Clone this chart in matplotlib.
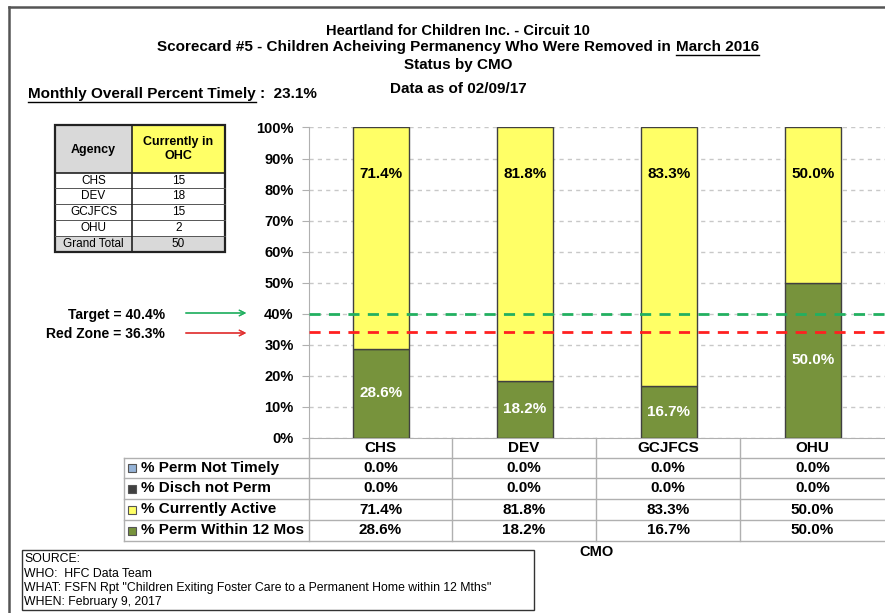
import matplotlib
matplotlib.use("Agg")
import matplotlib.pyplot as plt
from matplotlib import font_manager
from matplotlib.patches import Rectangle
from matplotlib.lines import Line2D

W, H = 885, 613

# ---- data ----
cmos = ["CHS", "DEV", "GCJFCS", "OHU"]
perm_not_timely = [0.0, 0.0, 0.0, 0.0]
disch_not_perm = [0.0, 0.0, 0.0, 0.0]
currently_active = [71.4, 81.8, 83.3, 50.0]
perm_within_12 = [28.6, 18.2, 16.7, 50.0]
series_names = ["% Perm Not Timely", "% Disch not Perm", "% Currently Active", "% Perm Within 12 Mos"]

agencies = ["CHS", "DEV", "GCJFCS", "OHU", "Grand Total"]
in_ohc = [15, 18, 15, 2, 50]

target = 40.0
red_zone = 34.2
overall_timely = "23.1%"

names = [f.name for f in font_manager.fontManager.ttflist]
narrow = "Liberation Sans Narrow" if "Liberation Sans Narrow" in names else "Liberation Sans"
plt.rcParams["font.family"] = ["Liberation Sans", "DejaVu Sans"]

GREEN = "#77933c"
YELLOW = "#ffff66"
DARK = "#404040"
BLUE = "#95b3d7"
GRID = "#b0b0b0"


def px(x, y):
    return x / W, 1 - y / H


fig = plt.figure(figsize=(W / 100, H / 100), dpi=100)

# outer frame
fig.add_artist(Line2D([9 / W, 9 / W], [0, 1 - 7 / H], transform=fig.transFigure, color="#555555", lw=1.8))
fig.add_artist(Line2D([9 / W, 1], [1 - 7 / H, 1 - 7 / H], transform=fig.transFigure, color="#555555", lw=1.8))

# ---- main axes ----
ax_l, ax_r, ax_t, ax_b = 309, 885, 127.5, 437.7
ax = fig.add_axes([ax_l / W, 1 - ax_b / H, (ax_r - ax_l) / W, (ax_b - ax_t) / H])
x = range(len(cmos))
bw = 0.39
ax.bar(x, perm_within_12, bw, color=GREEN, edgecolor=DARK, lw=1, zorder=3)
bottom2 = perm_within_12
ax.bar(x, currently_active, bw, bottom=bottom2, color=YELLOW, edgecolor=DARK, lw=1, zorder=3)
bottom3 = [a + b for a, b in zip(bottom2, currently_active)]
ax.bar(x, disch_not_perm, bw, bottom=bottom3, color=DARK, lw=0, zorder=3)
bottom4 = [a + b for a, b in zip(bottom3, disch_not_perm)]
ax.bar(x, perm_not_timely, bw, bottom=bottom4, color=BLUE, lw=0, zorder=3)

for i in x:
    ax.text(i, perm_within_12[i] / 2, f"{perm_within_12[i]:.1f}%", ha="center", va="center",
            color="white", fontsize=11, fontweight="bold", family=narrow, zorder=4)
    ax.text(i, 85, f"{currently_active[i]:.1f}%", ha="center", va="center",
            color="black", fontsize=11, fontweight="bold", family=narrow, zorder=4)

ax.axhline(target, color="#22b060", lw=2, ls=(0, (4, 3)), zorder=5)
ax.axhline(red_zone, color="#ff2020", lw=2, ls=(0, (4, 3)), zorder=5)

ax.set_xlim(-0.5, 3.5)
ax.set_ylim(0, 100)
ax.set_yticks(range(0, 101, 10))
ax.set_yticklabels([f"{v}%" for v in range(0, 101, 10)], fontsize=10.5, fontweight="bold")
ax.set_xticks([])
ax.yaxis.grid(True, color="#c8c8c8", ls=(0, (3, 3)), lw=1)
ax.set_axisbelow(True)
for s in ["top", "right"]:
    ax.spines[s].set_visible(False)
ax.spines["left"].set_color(GRID)
ax.spines["bottom"].set_color(GRID)
ax.tick_params(axis="y", length=5, color=GRID, pad=6)

# ---- data table under the chart ----
col_edges = [309, 452, 596, 740, 885]
row_edges = [437.7, 458, 478, 499, 520, 541]
tl = dict(transform=fig.transFigure, color=GRID, lw=1)
for y in row_edges[1:]:
    fig.add_artist(Line2D([124 / W, 1], [1 - y / H] * 2, **tl))
fig.add_artist(Line2D([124 / W] * 2, [1 - 458 / H, 1 - 541 / H], **tl))
for cx in col_edges[:-1]:
    fig.add_artist(Line2D([cx / W] * 2, [1 - 437.7 / H, 1 - 541 / H], **tl))

for j, name in enumerate(cmos):
    cx = (col_edges[j] + col_edges[j + 1]) / 2
    fig.text(*px(cx, 448), name, ha="center", va="center", fontsize=11, fontweight="bold")

table_rows = [perm_not_timely, disch_not_perm, currently_active, perm_within_12]
row_colors = [BLUE, DARK, YELLOW, GREEN]
for r, (label, vals, col) in enumerate(zip(series_names, table_rows, row_colors)):
    yc = (row_edges[r + 1] + row_edges[r + 2]) / 2
    fig.add_artist(Rectangle(px(128, yc + 4), 8 / W, 8 / H, transform=fig.transFigure,
                             facecolor=col, edgecolor="#555555", lw=0.8))
    fig.text(*px(141, yc), label, ha="left", va="center", fontsize=11, fontweight="bold")
    for j, v in enumerate(vals):
        cx = (col_edges[j] + col_edges[j + 1]) / 2
        fig.text(*px(cx, yc), f"{v:.1f}%", ha="center", va="center", fontsize=11, fontweight="bold")

fig.text(*px(597, 552), "CMO", ha="center", va="center", fontsize=10.5, fontweight="bold")

# ---- titles ----
fig.text(*px(458, 31), "Heartland for Children Inc. - Circuit 10", ha="center", va="center",
         fontsize=10.5, fontweight="bold", family=narrow)
fig.text(*px(458, 65), "Status by CMO", ha="center", va="center", fontsize=11, fontweight="bold", family=narrow)
fig.text(*px(458, 89), "Data as of 02/09/17", ha="center", va="center", fontsize=11, fontweight="bold", family=narrow)

fig.canvas.draw()
rend = fig.canvas.get_renderer()


def underline(t, y_off=1):
    bb = t.get_window_extent(rend)
    y = bb.y0 - y_off
    fig.add_artist(Line2D([bb.x0 / W, bb.x1 / W], [y / H, y / H], transform=fig.transFigure, color="black", lw=1))


pre = fig.text(0, 0, "Scorecard #5 - Children Acheiving Permanency Who Were Removed in ", fontsize=11,
               fontweight="bold", family=narrow, va="center")
post = fig.text(0, 0, "March 2016", fontsize=11, fontweight="bold", family=narrow, va="center")
w1 = pre.get_window_extent(rend).width
w2 = post.get_window_extent(rend).width
x0 = 458 - (w1 + w2) / 2
pre.set_position(px(x0, 47))
post.set_position(px(x0 + w1, 47))
fig.canvas.draw()
underline(post)

mt = fig.text(*px(28, 94), "Monthly Overall Percent Timely", ha="left", va="center",
              fontsize=11, fontweight="bold", family=narrow)
fig.canvas.draw()
underline(mt)
bb = mt.get_window_extent(rend)
fig.text((bb.x1 + 4) / W, *px(0, 94)[1:], ":  " + overall_timely, ha="left", va="center",
         fontsize=11, fontweight="bold", family=narrow)

# ---- target / red zone annotations ----
fig.text(*px(165, 315), f"Target = 40.4%", ha="right", va="center", fontsize=10, fontweight="bold")
fig.text(*px(165, 334), f"Red Zone = 36.3%", ha="right", va="center", fontsize=10, fontweight="bold")
fig.add_artist(plt.annotate("", xy=px(249, 313), xytext=px(183, 313), xycoords="figure fraction",
                            arrowprops=dict(arrowstyle="->", color="#22b060", lw=0.9)))
fig.add_artist(plt.annotate("", xy=px(249, 333), xytext=px(183, 333), xycoords="figure fraction",
                            arrowprops=dict(arrowstyle="->", color="#e03030", lw=0.9)))

# ---- agency table ----
tx0, tx1, tdiv = 55, 225, 132
theader_b = 173
trows = [173, 188, 204, 220, 236, 252]
fig.add_artist(Rectangle(px(tx0, theader_b), (tdiv - tx0) / W, (theader_b - 125) / H,
                         transform=fig.transFigure, facecolor="#d9d9d9", edgecolor="none"))
fig.add_artist(Rectangle(px(tdiv, theader_b), (tx1 - tdiv) / W, (theader_b - 125) / H,
                         transform=fig.transFigure, facecolor=YELLOW, edgecolor="none"))
fig.add_artist(Rectangle(px(tx0, 252), (tx1 - tx0) / W, 16 / H,
                         transform=fig.transFigure, facecolor="#d9d9d9", edgecolor="none"))
for y in trows[1:-1]:
    fig.add_artist(Line2D([tx0 / W, tx1 / W], [1 - y / H] * 2, transform=fig.transFigure, color="#555555", lw=0.7))
fig.add_artist(Line2D([tx0 / W, tx1 / W], [1 - theader_b / H] * 2, transform=fig.transFigure, color="#222222", lw=1.2))
fig.add_artist(Line2D([tdiv / W] * 2, [1 - 125 / H, 1 - 252 / H], transform=fig.transFigure, color="#222222", lw=1.2))
fig.add_artist(Rectangle(px(tx0, 252), (tx1 - tx0) / W, (252 - 125) / H, transform=fig.transFigure,
                         facecolor="none", edgecolor="#222222", lw=1.6))
fig.text(*px((tx0 + tdiv) / 2, 150), "Agency", ha="center", va="center", fontsize=9, fontweight="bold")
fig.text(*px((tdiv + tx1) / 2, 149), "Currently in\nOHC", ha="center", va="center", fontsize=9,
         fontweight="bold", linespacing=1.25)
for k, (a, n) in enumerate(zip(agencies, in_ohc)):
    yc = (trows[k] + trows[k + 1]) / 2
    fig.text(*px((tx0 + tdiv) / 2, yc), a, ha="center", va="center", fontsize=8.5)
    fig.text(*px((tdiv + tx1) / 2, yc), str(n), ha="center", va="center", fontsize=8.5)

# ---- source box ----
fig.add_artist(Rectangle(px(22, 610), (534 - 22) / W, (610 - 550) / H, transform=fig.transFigure,
                         facecolor="white", edgecolor="#333333", lw=1))
src_lines = ["SOURCE:", "WHO:  HFC Data Team",
             'WHAT: FSFN Rpt "Children Exiting Foster Care to a Permanent Home within 12 Mths"',
             "WHEN: February 9, 2017"]
for k, line in enumerate(src_lines):
    fig.text(*px(24, 559.5 + k * 14.3), line, ha="left", va="center", fontsize=8.8, family=narrow)

fig.savefig("out.png", dpi=100)
